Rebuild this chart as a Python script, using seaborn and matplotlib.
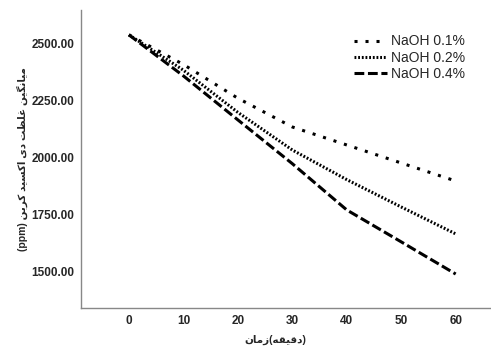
import matplotlib
matplotlib.use('Agg')
import matplotlib.pyplot as plt
import seaborn as sns
import pandas as pd

# داده ها
times = [0, 10, 20, 30, 40, 50, 60]
naoh_01 = [2540, 2410, 2262, 2136, 2057, 1978, 1899]
naoh_02 = [2540, 2385, 2200, 2035, 1905, 1785, 1667]
naoh_04 = [2540, 2360, 2167, 1975, 1772, 1632, 1491]
series_names = ['NaOH 0.1%', 'NaOH 0.2%', 'NaOH 0.4%']

# شکل دهی حروف فارسی (matplotlib خودش این کار را نمی کند)
forms = {
    'ا': ('\uFE8D', '\uFE8E', None, None),
    'ب': ('\uFE8F', '\uFE90', '\uFE91', '\uFE92'),
    'ت': ('\uFE95', '\uFE96', '\uFE97', '\uFE98'),
    'د': ('\uFEA9', '\uFEAA', None, None),
    'ر': ('\uFEAD', '\uFEAE', None, None),
    'ز': ('\uFEAF', '\uFEB0', None, None),
    'س': ('\uFEB1', '\uFEB2', '\uFEB3', '\uFEB4'),
    'ظ': ('\uFEC5', '\uFEC6', '\uFEC7', '\uFEC8'),
    'غ': ('\uFECD', '\uFECE', '\uFECF', '\uFED0'),
    'ق': ('\uFED5', '\uFED6', '\uFED7', '\uFED8'),
    'ل': ('\uFEDD', '\uFEDE', '\uFEDF', '\uFEE0'),
    'م': ('\uFEE1', '\uFEE2', '\uFEE3', '\uFEE4'),
    'ن': ('\uFEE5', '\uFEE6', '\uFEE7', '\uFEE8'),
    'ه': ('\uFEE9', '\uFEEA', '\uFEEB', '\uFEEC'),
    'ک': ('\uFB8E', '\uFB8F', '\uFB90', '\uFB91'),
    'گ': ('\uFB92', '\uFB93', '\uFB94', '\uFB95'),
    'ی': ('\uFBFC', '\uFBFD', '\uFBFE', '\uFBFF'),
}


def shape(text):
    out = []
    for i, ch in enumerate(text):
        if ch not in forms:
            out.append(ch)
            continue
        prev = text[i - 1] if i > 0 else ''
        nxt = text[i + 1] if i + 1 < len(text) else ''
        join_prev = prev in forms and forms[prev][2] is not None
        join_next = nxt in forms and forms[ch][2] is not None
        iso, fin, ini, med = forms[ch]
        if join_prev and join_next:
            out.append(med)
        elif join_prev:
            out.append(fin)
        elif join_next:
            out.append(ini)
        else:
            out.append(iso)
    return ''.join(out[::-1])


ylabel = '(ppm) ' + shape('میانگین غلظت دی اکسید کربن')
xlabel = shape('زمان') + '(' + shape('دقیقه') + ')'

df = pd.DataFrame({
    'time': times * 3,
    'value': naoh_01 + naoh_02 + naoh_04,
    'group': [series_names[0]] * 7 + [series_names[1]] * 7 + [series_names[2]] * 7,
})

sns.set_style('white')
plt.rcParams['font.family'] = ['Liberation Sans', 'DejaVu Sans']

fig = plt.figure(figsize=(4.91, 3.51), dpi=100)
ax = fig.add_axes([0.165, 0.1225, 0.833, 0.849])

dashes = {series_names[0]: (1, 2.6), series_names[1]: (0.6, 0.6), series_names[2]: (3.2, 1.2)}
sns.lineplot(data=df, x='time', y='value', hue='group', style='group',
             palette=['black'] * 3, dashes=dashes, linewidth=2.2, ax=ax)

ax.set_xlim(-8.8, 66.3)
ax.set_ylim(1342, 2649)
ax.set_xticks(times)
ax.set_yticks([1500, 1750, 2000, 2250, 2500])
ax.set_yticklabels(['%.2f' % v for v in [1500, 1750, 2000, 2250, 2500]])
ax.tick_params(length=0, labelsize=8.5, pad=5)
for lbl in ax.get_xticklabels() + ax.get_yticklabels():
    lbl.set_fontweight('bold')

ax.set_xlabel(xlabel, fontsize=7.5, fontweight='bold')
ax.set_ylabel(ylabel, fontsize=7.5, fontweight='bold')
ax.xaxis.set_label_coords(0.474, -0.107)
ax.yaxis.set_label_coords(-0.144, 0.5)
ax.xaxis.label.set_va('center')
ax.yaxis.label.set_va('center')

for s in ['top', 'right']:
    ax.spines[s].set_visible(False)
for s in ['left', 'bottom']:
    ax.spines[s].set_color('#888888')
    ax.spines[s].set_linewidth(1)

leg = ax.legend(loc='upper right', bbox_to_anchor=(0.97, 0.96), frameon=False,
                fontsize=10, handlelength=2.4, handletextpad=0.3, labelspacing=0.15)
leg.set_title(None)

fig.savefig('out.png', dpi=100)
